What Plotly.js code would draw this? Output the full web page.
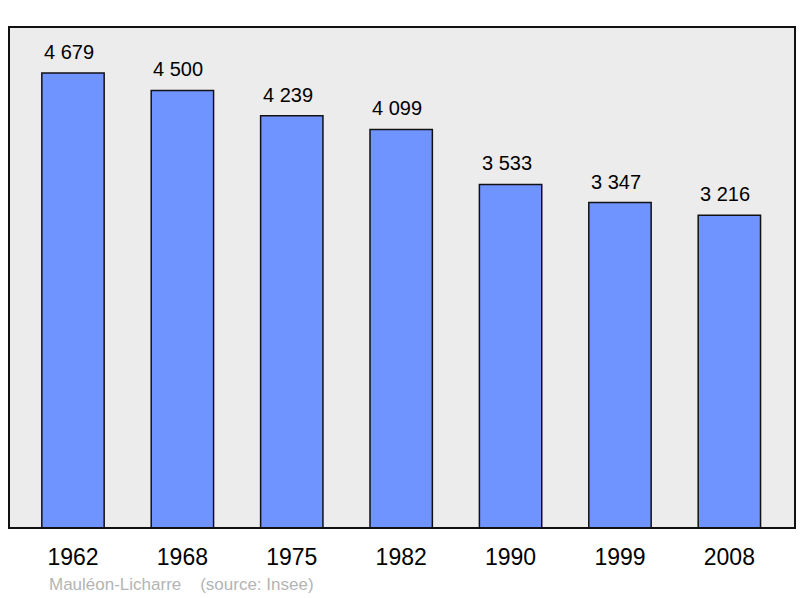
<!DOCTYPE html>
<html>
<head>
<meta charset="utf-8">
<script src="https://cdn.plot.ly/plotly-3.0.1.min.js"></script>
<style>
  html, body { margin: 0; padding: 0; background: #fff; }
  #chart { width: 800px; height: 598px; }
</style>
</head>
<body>
<div id="chart"></div>
<script>
// Population of Mauléon-Licharre by census year (Insee).
const YEARS = ["1962", "1968", "1975", "1982", "1990", "1999", "2008"];
const POPULATION = [4679, 4500, 4239, 4099, 3533, 3347, 3216];
const CAPTION = "Mauléon-Licharre    (source: Insee)";

const BAR = "#7094ff";
const FONT = "'Liberation Sans', Arial, sans-serif";

// French-style thousands: "4 679"
const fmt = (v) => String(v).replace(/\B(?=(\d{3})+(?!\d))/g, " ");

const traces = [
  {
    type: "bar",
    x: YEARS,
    y: POPULATION,
    width: 0.57,
    marker: { color: BAR, line: { color: "#111", width: 1.5 } },
    hoverinfo: "skip",
  },
];

const layout = {
  width: 800,
  height: 598,
  paper_bgcolor: "#ffffff",
  plot_bgcolor: "#ececec",
  font: { family: FONT, color: "#000" },
  margin: { l: 9, r: 5, t: 27, b: 70 },
  showlegend: false,
  xaxis: {
    type: "category",
    range: [-0.585, 6.6],
    showgrid: false,
    zeroline: false,
    ticks: "",
    ticklabelstandoff: 13,
    tickfont: { size: 23, color: "#000" },
  },
  yaxis: {
    range: [0, 5152],
    showgrid: false,
    zeroline: false,
    showticklabels: false,
    ticks: "",
  },
  shapes: [
    {
      type: "rect", xref: "paper", yref: "paper", x0: 0, x1: 1, y0: 0, y1: 1,
      line: { color: "#111", width: 2 },
    },
  ],
  annotations: [
    // category index as x so numeric-looking year strings are not misread
    ...POPULATION.map((v, i) => ({
      x: i, y: v, text: fmt(v),
      showarrow: false, yanchor: "bottom", yshift: 8, xshift: -4,
      font: { size: 20, color: "#000" },
    })),
    {
      xref: "paper", yref: "paper", x: 0.048, y: -0.09, xanchor: "left", yanchor: "top",
      text: CAPTION.replace(/ {2,}/g, (s) => "&nbsp;".repeat(s.length)),
      showarrow: false, font: { size: 17, color: "#b4b4b4" },
    },
  ],
};

Plotly.newPlot("chart", traces, layout, { displayModeBar: false, staticPlot: true });
</script>
</body>
</html>
